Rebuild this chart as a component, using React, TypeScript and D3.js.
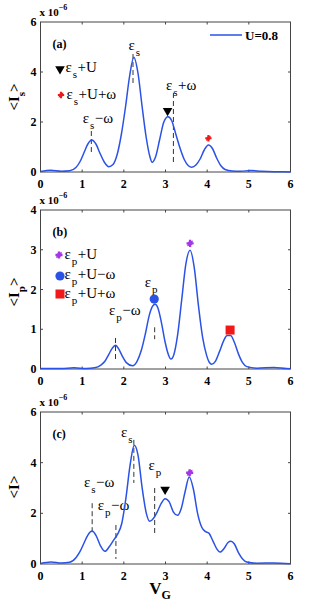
import React from 'react';
import * as d3 from 'd3';

// gate voltage samples and currents (x 1e-6)
const vgA = [0, 0.25, 0.5, 0.7, 0.85, 0.95, 1.05, 1.13, 1.23, 1.33, 1.43, 1.53, 1.64, 1.74, 1.84, 1.94, 2.04, 2.14, 2.24, 2.34, 2.44, 2.54, 2.62, 2.68, 2.76, 2.86, 2.96, 3.06, 3.15, 3.25, 3.35, 3.45, 3.55, 3.63, 3.73, 3.83, 3.93, 4.03, 4.13, 4.23, 4.33, 4.43, 4.6, 4.8, 5.05, 5.3, 5.6, 6];
const curA = [0.02, 0.07, 0.03, 0.05, 0.18, 0.42, 0.8, 1.1, 1.28, 1.12, 0.74, 0.4, 0.21, 0.3, 0.7, 1.5, 2.6, 3.85, 4.59, 3.95, 2.6, 1.35, 0.65, 0.39, 0.6, 1.3, 2.0, 2.21, 2.05, 1.5, 0.95, 0.5, 0.25, 0.19, 0.28, 0.52, 0.88, 1.08, 0.93, 0.55, 0.25, 0.1, 0.04, 0.03, 0.06, 0.03, 0.01, 0.005];

const vgB = [0, 0.5, 0.8, 1.1, 1.3, 1.45, 1.55, 1.64, 1.72, 1.8, 1.88, 1.96, 2.06, 2.21, 2.32, 2.42, 2.52, 2.61, 2.69, 2.75, 2.82, 2.9, 2.99, 3.07, 3.13, 3.2, 3.29, 3.39, 3.49, 3.59, 3.69, 3.79, 3.89, 3.99, 4.05, 4.11, 4.2, 4.3, 4.4, 4.48, 4.56, 4.65, 4.75, 4.85, 4.95, 5.2, 5.6, 5.9, 6];
const curB = [0.01, 0.01, 0.03, 0.01, 0.03, 0.1, 0.2, 0.37, 0.52, 0.6, 0.5, 0.33, 0.16, 0.08, 0.2, 0.47, 0.9, 1.35, 1.58, 1.63, 1.53, 1.18, 0.68, 0.36, 0.25, 0.36, 0.85, 1.75, 2.65, 2.99, 2.55, 1.6, 0.8, 0.33, 0.17, 0.12, 0.2, 0.45, 0.72, 0.84, 0.84, 0.68, 0.38, 0.16, 0.06, 0.02, 0.04, 0.01, 0.005];

const vgC = [0, 0.25, 0.5, 0.7, 0.85, 0.95, 1.05, 1.14, 1.24, 1.34, 1.44, 1.55, 1.65, 1.75, 1.85, 1.95, 2.05, 2.15, 2.25, 2.34, 2.44, 2.54, 2.62, 2.71, 2.8, 2.9, 2.99, 3.09, 3.19, 3.29, 3.38, 3.47, 3.57, 3.67, 3.77, 3.87, 3.95, 4.04, 4.14, 4.23, 4.31, 4.41, 4.5, 4.57, 4.65, 4.75, 4.85, 4.95, 5.2, 5.6, 6];
const curC = [0.02, 0.08, 0.04, 0.07, 0.25, 0.5, 0.85, 1.15, 1.3, 1.1, 0.72, 0.5, 0.68, 0.93, 1.18, 1.6, 2.6, 3.9, 4.69, 4.3, 3.0, 2.0, 1.69, 1.8, 2.05, 2.4, 2.58, 2.45, 2.05, 1.92, 2.2, 2.85, 3.43, 2.95, 2.0, 1.45, 1.29, 1.22, 0.9, 0.6, 0.47, 0.62, 0.85, 0.9, 0.8, 0.45, 0.2, 0.08, 0.03, 0.04, 0.01];

const xTicks = [0, 1, 2, 3, 4, 5, 6];
const yTicksA = [0, 2, 4, 6];
const yTicksB = [0, 1, 2, 3, 4];
const yTicksC = [0, 2, 4, 6];

const BLUE = '#2a52e6';
const PURPLE = '#a435e8';
const RED = '#f01818';
const FONT = '"Liberation Serif", "Times New Roman", serif';
const L = 40.5;
const R = 290.5;

type Part = { t: string; sub?: boolean };
type Note = { x: number; y: number; parts: Part[]; dx: number; y1: number; y2: number };
type Mark = { x: number; y: number; kind: string };

const notesA: Note[] = [
  { x: 1.0, y: 1.96, parts: [{ t: 'ε' }, { t: 's', sub: true }, { t: '−ω' }], dx: 1.22, y1: 1.64, y2: 0.8 },
  { x: 2.1, y: 4.9, parts: [{ t: 'ε' }, { t: 's', sub: true }], dx: 2.22, y1: 4.72, y2: 3.44 },
  { x: 3.0, y: 3.28, parts: [{ t: 'ε' }, { t: 's', sub: true }, { t: '+ω' }], dx: 3.19, y1: 3.16, y2: 0.4 },
];
const notesB: Note[] = [
  { x: 1.63, y: 1.36, parts: [{ t: 'ε' }, { t: 'p', sub: true }, { t: '−ω' }], dx: 1.8, y1: 0.78, y2: 0.2 },
  { x: 2.49, y: 2.07, parts: [{ t: 'ε' }, { t: 'p', sub: true }], dx: 2.74, y1: 1.05, y2: 0.75 },
];
const notesC: Note[] = [
  { x: 1.92, y: 5.03, parts: [{ t: 'ε' }, { t: 's', sub: true }], dx: 2.24, y1: 4.9, y2: 3.2 },
  { x: 2.58, y: 3.71, parts: [{ t: 'ε' }, { t: 'p', sub: true }], dx: 2.74, y1: 3.0, y2: 1.2 },
  { x: 1.03, y: 3.05, parts: [{ t: 'ε' }, { t: 's', sub: true }, { t: '−ω' }], dx: 1.24, y1: 2.4, y2: 1.2 },
  { x: 1.36, y: 2.13, parts: [{ t: 'ε' }, { t: 'p', sub: true }, { t: '−ω' }], dx: 1.81, y1: 1.54, y2: 0.2 },
];

const marksA: Mark[] = [
  { x: 3.05, y: 2.45, kind: 'tri' },
  { x: 4.03, y: 1.35, kind: 'redstar' },
];
const marksB: Mark[] = [
  { x: 3.59, y: 3.16, kind: 'purple' },
  { x: 2.73, y: 1.76, kind: 'circle' },
  { x: 4.55, y: 0.98, kind: 'square' },
];
const marksC: Mark[] = [
  { x: 2.99, y: 2.94, kind: 'tri' },
  { x: 3.58, y: 3.6, kind: 'purple' },
];

function Marker({ x, y, kind }: { x: number; y: number; kind: string }) {
  if (kind === 'tri') {
    const p = d3.symbol(d3.symbolTriangle, 40)();
    return <path d={p || ''} transform={`translate(${x},${y}) rotate(180)`} fill="#000" />;
  }
  if (kind === 'redstar' || kind === 'purple') {
    const c = kind === 'redstar' ? RED : PURPLE;
    const p = d3.symbol(d3.symbolCross, kind === 'redstar' ? 22 : 28)();
    const q = d3.symbol(d3.symbolDiamond, kind === 'redstar' ? 14 : 20)();
    return (
      <g transform={`translate(${x},${y})`} fill={c}>
        <path d={p || ''} />
        <path d={q || ''} transform="rotate(45)" />
      </g>
    );
  }
  if (kind === 'circle') return <circle cx={x} cy={y} r={4.6} fill={BLUE} />;
  return <rect x={x - 4.5} y={y - 4.5} width={9} height={9} fill={RED} />;
}

function Label({ x, y, parts, size = 15 }: { x: number; y: number; parts: Part[]; size?: number }) {
  let down = false;
  return (
    <text x={x} y={y} fontFamily={FONT} fontSize={size} fill="#000">
      {parts.map((p, i) => {
        let dy = 0;
        if (p.sub && !down) { dy = 6; down = true; }
        else if (!p.sub && down) { dy = -6; down = false; }
        return (
          <tspan key={i} dy={dy} dx={p.sub ? 1 : 0.5} fontSize={p.sub ? size - 4 : size}>{p.t}</tspan>
        );
      })}
    </text>
  );
}

function Panel(props: {
  top: number; bottom: number; yMax: number; yTicks: number[];
  vg: number[]; cur: number[]; tag: string; ylab: string; ysub: string; ylabY: number;
  notes: Note[]; marks: Mark[]; children?: React.ReactNode;
}) {
  const { top, bottom, yMax, yTicks, vg, cur, tag, ylab, ysub, ylabY, notes, marks } = props;
  const x = d3.scaleLinear().domain([0, 6]).range([L, R]);
  const y = d3.scaleLinear().domain([0, yMax]).range([bottom, top]);
  const pts = vg.map((v, i) => [v, cur[i]] as [number, number]);
  const line = d3.line<[number, number]>().x(d => x(d[0])).y(d => y(d[1])).curve(d3.curveMonotoneX);
  return (
    <g>
      <rect x={L} y={top} width={R - L} height={bottom - top} fill="#fff" stroke="#444" strokeWidth={1} />
      {xTicks.map(t => (
        <g key={'x' + t}>
          {t > 0 && t < 6 && <line x1={x(t)} x2={x(t)} y1={bottom} y2={bottom - 2.5} stroke="#444" />}
          {t > 0 && t < 6 && <line x1={x(t)} x2={x(t)} y1={top} y2={top + 2.5} stroke="#444" />}
          <text x={x(t)} y={bottom + 16} textAnchor="middle" fontFamily={FONT} fontWeight="bold" fontSize={12}>{t}</text>
        </g>
      ))}
      {yTicks.map(t => (
        <g key={'y' + t}>
          {t > 0 && t < yMax && <line x1={L} x2={L + 2.5} y1={y(t)} y2={y(t)} stroke="#444" />}
          {t > 0 && t < yMax && <line x1={R} x2={R - 2.5} y1={y(t)} y2={y(t)} stroke="#444" />}
          <text x={L - 4} y={y(t) + 4} textAnchor="end" fontFamily={FONT} fontWeight="bold" fontSize={12}>{t}</text>
        </g>
      ))}
      <text x={L - 1} y={top - 6} fontFamily={FONT} fontWeight="bold" fontSize={11}>
        x 10<tspan dy={-6} fontSize={8}>−6</tspan>
      </text>
      <text transform={`translate(19,${ylabY}) rotate(-90)`} textAnchor="middle" fontFamily={FONT} fontWeight="bold" fontSize={15}>
        {ylab}
        {ysub && <tspan dy={6} fontSize={11}>{ysub}</tspan>}
        <tspan dy={ysub ? -6 : 0}>{'>'}</tspan>
      </text>
      <text x={L + 12} y={top + 26} fontFamily={FONT} fontWeight="bold" fontSize={12}>{tag}</text>
      {notes.map((n, i) => (
        <g key={'n' + i}>
          <Label x={x(n.x)} y={y(n.y)} parts={n.parts} />
          <line x1={x(n.dx)} x2={x(n.dx)} y1={y(n.y1)} y2={y(n.y2)} stroke="#000" strokeWidth={0.8} strokeDasharray="5,3" />
        </g>
      ))}
      <path d={line(pts) || ''} fill="none" stroke={BLUE} strokeWidth={1.5} />
      {marks.map((m, i) => <Marker key={'m' + i} x={x(m.x)} y={y(m.y)} kind={m.kind} />)}
      {props.children}
    </g>
  );
}

export default function App() {
  return (
    <svg width={324} height={604} style={{ position: 'absolute', left: 0, top: 0, background: '#fff' }}>
      <Panel top={22} bottom={172} yMax={6} yTicks={yTicksA} vg={vgA} cur={curA} tag="(a)" ylab="<I" ysub="s" ylabY={97} notes={notesA} marks={marksA}>
        <line x1={210} x2={242} y1={35} y2={35} stroke={BLUE} strokeWidth={1.5} />
        <text x={245} y={40} fontFamily={FONT} fontWeight="bold" fontSize={13}>U=0.8</text>
        <Marker x={60} y={69} kind="tri" />
        <Label x={65} y={72} parts={[{ t: 'ε' }, { t: 's', sub: true }, { t: '+U' }]} />
        <Marker x={61} y={95} kind="redstar" />
        <Label x={66} y={99} parts={[{ t: 'ε' }, { t: 's', sub: true }, { t: '+U+ω' }]} />
      </Panel>
      <Panel top={210} bottom={369} yMax={4} yTicks={yTicksB} vg={vgB} cur={curB} tag="(b)" ylab="<I" ysub="p" ylabY={292} notes={notesB} marks={marksB}>
        <Marker x={59} y={255} kind="purple" />
        <Label x={64} y={259} parts={[{ t: 'ε' }, { t: 'p', sub: true }, { t: '+U' }]} />
        <Marker x={60} y={276} kind="circle" />
        <Label x={64} y={279} parts={[{ t: 'ε' }, { t: 'p', sub: true }, { t: '+U−ω' }]} />
        <Marker x={60} y={294} kind="square" />
        <Label x={64} y={298} parts={[{ t: 'ε' }, { t: 'p', sub: true }, { t: '+U+ω' }]} />
      </Panel>
      <Panel top={412} bottom={564} yMax={6} yTicks={yTicksC} vg={vgC} cur={curC} tag="(c)" ylab="<I" ysub="" ylabY={487} notes={notesC} marks={marksC}>
        <text x={160} y={594} fontFamily={FONT} fontWeight="bold" fontSize={17} textAnchor="middle">
          V<tspan dy={5} fontSize={12}>G</tspan>
        </text>
      </Panel>
    </svg>
  );
}
